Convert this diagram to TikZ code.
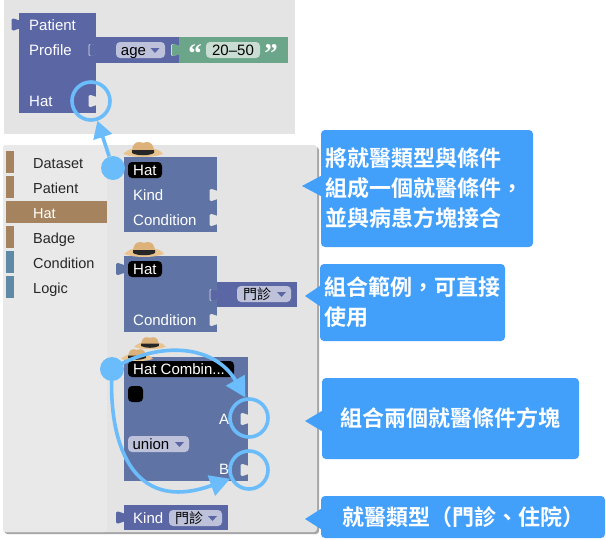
\documentclass[tikz,border=0pt]{standalone}
\usepackage{fontspec}
\setmainfont{Liberation Sans}
\newfontfamily\cjk{Noto Sans CJK TC}
\newfontfamily\cjkb{Noto Sans CJK TC Bold}
\newfontfamily\quotefont{Liberation Serif}
\usetikzlibrary{arrows.meta}
\definecolor{bgA}{HTML}{E4E4E4}
\definecolor{bgB}{HTML}{E9E9E9}
\definecolor{blockP}{HTML}{5B67A5}
\definecolor{blockH}{HTML}{5F74A4}
\definecolor{blockG}{HTML}{6BA58A}
\definecolor{swB}{HTML}{A5835F}
\definecolor{swC}{HTML}{5F8AA5}
\definecolor{ddP}{HTML}{BDC2DA}
\definecolor{ddG}{HTML}{C9DDD3}
\definecolor{call}{HTML}{42A0FB}
\definecolor{mark}{HTML}{6BBCFB}
\definecolor{hatA}{HTML}{E9C48F}
\definecolor{hatB}{HTML}{DDB27A}
\tikzset{
  x=1pt,y=-1pt,
  lbl/.style={text=white,anchor=base west,inner sep=0pt,font=\fontsize{15}{16}\selectfont},
  tool/.style={text=black!85,anchor=base west,inner sep=0pt,font=\fontsize{14.5}{16}\selectfont},
  ddtext/.style={text=black,anchor=base,inner sep=0pt,font=\fontsize{15}{16}\selectfont},
  ddcjk/.style={text=black,inner sep=0pt,font=\cjk\fontsize{14}{16}\selectfont},
  tag/.style={fill=black,rounded corners=4pt},
  ddbox/.style={rounded corners=4pt},
  callbox/.style={fill=call,rounded corners=4pt,draw=none,text=white,inner sep=0pt,
    minimum width=#1,font=\cjkb\fontsize{22}{30}\selectfont},
  ring/.style={circle,draw=mark,line width=3.6pt,minimum size=38pt,inner sep=0pt},
  dot/.style={circle,fill=mark,minimum size=24pt,inner sep=0pt},
  flow/.style={draw=mark,line width=3.6pt,-{Triangle[length=20pt,width=21pt]}},
  flowsmall/.style={draw=mark,line width=3.6pt,-{Triangle[length=17pt,width=19pt]}},
  qmark/.style={text=white,anchor=base,inner sep=0pt,font=\quotefont\bfseries\fontsize{27}{27}\selectfont},
}
% tab on a left edge (x,y); a socket is the same outline in the background colour
\newcommand{\tabb}[3]{\fill[#3,shift={(#1,#2)}] (0.5,-4) .. controls (-1.5,-4) and (-3,-6) .. (-5.5,-6) .. controls (-7,-6) and (-7.5,-5) .. (-7.5,-4) -- (-7.5,4) .. controls (-7.5,5) and (-7,6) .. (-5.5,6) .. controls (-3,6) and (-1.5,4) .. (0.5,4) -- cycle;}
\newcommand{\sockt}[3]{\tabb{#1}{#2}{#3}}
% drop-down triangle
\newcommand{\ddtri}[3]{\fill[#3] (#1,#2) ++(-4.5,-2) -- ++(9,0) -- ++(-4.5,5) -- cycle;}
% hat
\newcommand{\hatt}[3]{\begin{scope}[shift={(#1,#2)},scale=#3]
  \fill[hatA] (-20,1) .. controls (-14,-4) and (-12,-4) .. (-11,-4) -- (11,-4) .. controls (14,-4) and (18,-2) .. (20,1) .. controls (10,5) and (-10,5) .. (-20,1) -- cycle;
  \fill[hatB] (-11,-1) .. controls (-11,-8) and (-8,-11) .. (-4,-11) .. controls (-1,-10) and (1,-10) .. (4,-11) .. controls (8,-11) and (11,-8) .. (11,-1) -- cycle;
  \fill[black!85] (-11,-3) -- (11,-3) -- (11,0) .. controls (6,3) and (-6,3) .. (-11,0) -- cycle;
\end{scope}}
\begin{document}
\begin{tikzpicture}
\useasboundingbox (0,0) rectangle (606,539);
\fill[white] (0,0) rectangle (606,539);
% top workspace
\fill[bgA] (4,0) rectangle (295,134);
% age block and value
\fill[blockP] (96,37) rectangle (179,63);
\fill[blockG] (179,37) rectangle (288,63);
\sockt{178.5}{50}{bgA}
\tabb{179.4}{50}{blockG}
\fill[blockP] (19,13) rectangle (96,113);
\tabb{19}{24.5}{blockP}
\sockt{96}{50}{bgA}
\tabb{96.9}{50}{blockP}
\sockt{96}{101}{bgA}
\node[lbl] (patient) at (29,30) {Patient};
\node[lbl] (profile) at (29,55) {Profile};
\node[lbl] (hatin) at (29,106) {Hat};
\fill[ddP,ddbox] (116,42) rectangle (165,58);
\node[ddtext] (age) at (133.5,55.5) {age};
\ddtri{155}{50}{blockP}
\fill[ddG,ddbox] (206,42) rectangle (260,58);
\node[ddtext] (val) at (233,55.5) {20–50};
\node[qmark] (q1) at (195,62) {“};
\node[qmark] (q2) at (271,62) {”};
% toolbox panel
\fill[black!35,rounded corners=3pt] (4.5,147) rectangle (319,534);
\fill[bgA,rounded corners=3pt] (3,145) rectangle (317,532);
\fill[bgB,rounded corners=3pt] (3,145) -- (107,145) -- (107,532) -- (3,532) -- cycle;
\foreach \yy/\cc in {151/swB,176/swB,226/swB,251/swC,276/swC}{\fill[\cc] (6,\yy) rectangle (14,\yy+22);}
\fill[swB] (6,201) rectangle (107,223);
\node[tool] (t1) at (33,168) {Dataset};
\node[tool] (t2) at (33,193) {Patient};
\node[tool,text=white] (t3) at (33,218) {Hat};
\node[tool] (t4) at (33,243) {Badge};
\node[tool] (t5) at (33,268) {Condition};
\node[tool] (t6) at (33,293) {Logic};
% block 1
\fill[blockH] (123.5,157) rectangle (217,232);
\sockt{217}{195}{bgA}
\sockt{217}{220}{bgA}
\hatt{143}{153}{1}
\fill[tag] (128,162) rectangle (162,178);
\node[lbl] (h1) at (133,175) {Hat};
\node[lbl] (k1) at (133,200) {Kind};
\node[lbl] (c1) at (133,225) {Condition};
% block 2
\fill[blockH] (123.5,256) rectangle (217,332);
\fill[blockP] (217,281.5) rectangle (297,306.5);
\sockt{217}{295}{bgA}
\tabb{217.9}{295}{blockP}
\tabb{123.5}{269}{blockH}
\sockt{217}{320}{bgA}
\hatt{144}{253}{1}
\fill[tag] (128,261) rectangle (162,277);
\node[lbl] (h2) at (133,274) {Hat};
\node[lbl] (c2) at (133,325) {Condition};
\fill[ddP,ddbox] (237,286) rectangle (291,302);
\node[ddcjk] (m1) at (257,294) {門診};
\ddtri{281.5}{294}{blockP}
% block 3
\fill[blockH] (123.5,356.5) rectangle (248,481);
\sockt{248}{419}{bgA}
\sockt{248}{470}{bgA}
\hatt{150}{346}{0.8}
\hatt{137}{358}{0.8}
\fill[tag] (128,361) rectangle (234,377);
\node[lbl] (h3) at (133,374) {Hat Combin...};
\fill[tag] (128,386) rectangle (143,402);
\node[lbl] (la) at (219,424) {A};
\node[lbl] (lb) at (219,474) {B};
\fill[ddP,ddbox] (128,436) rectangle (189,452);
\node[ddtext] (un) at (151,449.5) {union};
\ddtri{179.5}{444}{blockP}
% kind block
\fill[blockP] (123.5,505) rectangle (228,530);
\tabb{123.5}{517.5}{blockP}
\node[lbl] (k2) at (133,523) {Kind};
\fill[ddP,ddbox] (169,510) rectangle (222,526);
\node[ddcjk] (m2) at (189,518) {門診};
\ddtri{212.5}{518}{blockP}
% markers
\node[ring] (r0) at (91,101) {};
\node[ring] (ra) at (249,418) {};
\node[ring] (rb) at (249,470) {};
\node[dot] (d1) at (113,168) {};
\node[dot] (d2) at (112,369) {};
\draw[flowsmall] (d1) -- (r0.288);
\draw[flow] (d2.center) .. controls (160,340) and (215,345) .. (ra.100);
\draw[flow] (d2.center) .. controls (108,440) and (130,515) .. (rb.205);
% callouts
\node[callbox=212pt,minimum height=117pt,align=left,text width=204pt] (b1) at (427,188.5) {將就醫類型與條件\\組成一個就醫條件，\\並與病患方塊接合};
\node[callbox=185pt,minimum height=77pt,align=left,text width=177pt] (b2) at (412.5,302.5) {組合範例，可直接\\使用};
\node[callbox=257pt,minimum height=81pt] (b3) at (450.5,418.5) {組合兩個就醫條件方塊};
\node[callbox=284pt,minimum height=42pt] (b4) at (463,517) {就醫類型（門診、住院）};
\coordinate (p1) at (302,186);
\coordinate (p2) at (305,296);
\coordinate (p3) at (305,421);
\coordinate (p4) at (305,519);
\fill[call] (p1) -- (b1.west |- 0,176) -- (b1.west |- 0,196) -- cycle;
\fill[call] (p2) -- (b2.west |- 0,286) -- (b2.west |- 0,306) -- cycle;
\fill[call] (p3) -- (b3.west |- 0,411) -- (b3.west |- 0,431) -- cycle;
\fill[call] (p4) -- (b4.west |- 0,509) -- (b4.west |- 0,529) -- cycle;
\end{tikzpicture}
\end{document}
